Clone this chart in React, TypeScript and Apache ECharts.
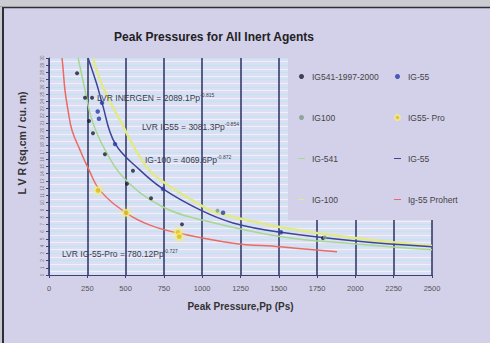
import React, { useEffect, useRef } from "react";
import * as echarts from "echarts";

// ---- data ----
const xTickMax = 2500;
const yTickMax = 30;

// measured points
const ig541Points = [[183, 27.9], [235, 24.5], [281, 24.5], [261, 21.3], [287, 19.6], [365, 16.7], [548, 14.4], [509, 12.6], [666, 10.6], [868, 7.0], [1788, 5.1]];
const ig55Points = [[346, 23.8], [318, 22.6], [326, 21.6], [431, 18.1], [744, 11.9], [1136, 8.6], [1514, 5.9]];
const ig100Points = [[1100, 8.9], [1800, 5.2]];
const ig55ProPoints = [[320, 11.7], [503, 8.6], [842, 5.9], [850, 5.3]];

// fitted curves
const ig541Fit = [[190, 30], [235, 25.6], [281, 21.4], [366, 17.3], [503, 13.1], [744, 9.4], [999, 7.6], [1514, 5.3], [2000, 4.3], [2500, 3.5]];
const ig55Fit = [[255, 30], [313, 26.3], [346, 23.8], [431, 18.2], [594, 14.5], [744, 11.9], [986, 9.0], [1201, 7.2], [1514, 5.9], [2000, 4.7], [2500, 3.9]];
const ig100Fit = [[287, 30], [346, 26.3], [463, 21.4], [627, 15.2], [744, 12.9], [986, 9.7], [1097, 8.6], [1514, 6.6], [2000, 5.1], [2500, 4.0]];
const ig55ProFit = [[85, 30], [91, 28.7], [104, 25.6], [124, 22.8], [150, 20.0], [202, 17.3], [255, 14.8], [333, 11.7], [503, 8.6], [659, 6.9], [842, 5.8], [1201, 4.4], [1508, 3.9], [1880, 3.2]];

const equations = [
  { label: "LVR INERGEN = 2089.1Pp", exp: "-0.815", x: 97, y: 98 },
  { label: "LVR IG55 = 3081.3Pp", exp: "-0.854", x: 142, y: 127 },
  { label: "IG-100 = 4069.6Pp", exp: "-0.872", x: 145, y: 160 },
  { label: "LVR IG-55-Pro = 780.12Pp", exp: "-0.727", x: 62, y: 254 },
];

const FONT = "Liberation Sans, Arial, sans-serif";
const LINE_ICON = "path://M0,0 L0,0 M0,4 L14,4 L14,6 L0,6 Z M14,10 L14,10";

export default function App() {
  const ref = useRef<HTMLDivElement>(null);
  useEffect(() => {
    if (!ref.current) return;
    const chart = echarts.init(ref.current, null, { renderer: "svg" });
    const lav = "#d3d0ea";
    const legendText = { fontSize: 8.5, color: "#444", fontFamily: FONT };
    const option: any = {
      animation: false,
      backgroundColor: lav,
      textStyle: { fontFamily: FONT },
      grid: { left: 49, right: 58, top: 58, bottom: 68, show: true, backgroundColor: "#dcdff3", borderWidth: 0 },
      xAxis: {
        type: "value",
        min: 0,
        max: xTickMax,
        interval: 250,
        name: "Peak Pressure,Pp (Ps)",
        nameLocation: "middle",
        nameGap: 26,
        nameTextStyle: { fontSize: 10, fontWeight: "bold", color: "#333", fontFamily: FONT },
        axisLine: { show: true, lineStyle: { color: "#3a4070", width: 1 } },
        axisTick: { show: true, length: 3, lineStyle: { color: "#3a4070" } },
        axisLabel: { fontSize: 7.5, color: "#555", margin: 9, fontFamily: FONT, formatter: (v: number) => String(v) },
        splitLine: { show: true, lineStyle: { color: "#2b3260", width: 1.5 } },
      },
      yAxis: {
        type: "value",
        min: 0,
        max: yTickMax,
        interval: 1,
        axisLine: { show: true, lineStyle: { color: "#3a4070", width: 1 } },
        axisTick: { show: true, length: 3, lineStyle: { color: "#3a4070" } },
        axisLabel: { fontSize: 4.5, color: "#777", margin: 4, rotate: 90, fontFamily: FONT },
        splitLine: { show: true, lineStyle: { color: "#bfe4f2", width: 1 } },
        minorTick: { show: false, splitNumber: 2 },
        minorSplitLine: { show: true, lineStyle: { color: "#eef0fa", width: 1 } },
      },
      legend: [
        {
          left: 293,
          top: 67,
          orient: "vertical",
          itemGap: 32,
          itemWidth: 11,
          itemHeight: 5,
          textStyle: legendText,
          data: [
            { name: "IG541-1997-2000", icon: "circle" },
            { name: "IG100", icon: "circle" },
            { name: "IG-541", icon: LINE_ICON },
            { name: "IG-100", icon: LINE_ICON },
          ],
        },
        {
          left: 389,
          top: 67,
          orient: "vertical",
          itemGap: 32,
          itemWidth: 11,
          itemHeight: 5,
          textStyle: legendText,
          data: [
            { name: "IG-55", icon: "circle" },
            { name: "IG55- Pro", icon: "circle" },
            { name: "IG-55 ", icon: LINE_ICON },
            { name: "Ig-55 Prohert", icon: LINE_ICON },
          ],
        },
      ],
      series: [
        { name: "IG-541", type: "line", data: ig541Fit, smooth: 0.4, symbol: "none", lineStyle: { color: "#a6d88e", width: 1.5 }, itemStyle: { color: "#a6d88e" }, z: 3 },
        { name: "IG-100", type: "line", data: ig100Fit, smooth: 0.4, symbol: "none", lineStyle: { color: "#e2e98a", width: 2.5 }, itemStyle: { color: "#e2e98a" }, z: 3 },
        { name: "IG-55 ", type: "line", data: ig55Fit, smooth: 0.4, symbol: "none", lineStyle: { color: "#3e4596", width: 1.5 }, itemStyle: { color: "#3e4596" }, z: 4 },
        { name: "Ig-55 Prohert", type: "line", data: ig55ProFit, smooth: 0.4, symbol: "none", lineStyle: { color: "#ec6a62", width: 1.5 }, itemStyle: { color: "#ec6a62" }, z: 4 },
        { name: "IG541-1997-2000", type: "scatter", data: ig541Points, symbolSize: 4, itemStyle: { color: "#1c1c30" }, z: 6 },
        { name: "IG-55", type: "scatter", data: ig55Points, symbolSize: 4.5, itemStyle: { color: "#2c3aa8" }, z: 6 },
        { name: "IG100", type: "scatter", data: ig100Points, symbolSize: 4, itemStyle: { color: "#7e9a86" }, z: 6 },
        { name: "IG55- Pro", type: "scatter", data: ig55ProPoints, symbolSize: 6, itemStyle: { color: "#d8b818", shadowBlur: 5, shadowColor: "#f4f070", borderColor: "#f6ee80", borderWidth: 1.5 }, z: 6 },
      ],
      graphic: [
        { type: "rect", z: 1, shape: { x: 288, y: 50, width: 202, height: 170 }, style: { fill: lav } },
        { type: "rect", z: 1, shape: { x: 433, y: 50, width: 57, height: 230 }, style: { fill: lav } },
        { type: "rect", z: 100, shape: { x: 0, y: 0, width: 490, height: 7 }, style: { fill: "#cbcbd2" } },
        { type: "line", z: 100, shape: { x1: 0, y1: 7.5, x2: 490, y2: 7.5 }, style: { stroke: "#2e2e36", lineWidth: 1.5 } },
        { type: "rect", z: 100, shape: { x: 0, y: 7, width: 2, height: 336 }, style: { fill: "#c8c8d0" } },
        { type: "line", z: 100, shape: { x1: 3, y1: 7, x2: 3, y2: 343 }, style: { stroke: "#2e2e36", lineWidth: 2 } },
        {
          type: "text",
          z: 100,
          x: 214,
          y: 37,
          style: { text: "Peak Pressures for All Inert Agents", fill: "#222", font: "bold 12px " + FONT, textAlign: "center", textVerticalAlign: "middle" },
        },
        {
          type: "text",
          z: 100,
          x: 22,
          y: 143,
          rotation: Math.PI / 2,
          style: { text: "L V R (sq.cm / cu. m)", fill: "#333", font: "bold 10.5px " + FONT, textAlign: "center", textVerticalAlign: "middle" },
        },
        ...equations.map((e) => ({
          type: "text",
          z: 100,
          x: e.x,
          y: e.y,
          style: {
            text: e.label + "{sup|" + e.exp + "}",
            fill: "#3a3a4a",
            font: "8.5px " + FONT,
            textVerticalAlign: "middle",
            rich: { sup: { fontSize: 5, fill: "#3a3a4a", padding: [0, 0, 7, 0] } },
          },
        })),
      ],
    };
    chart.setOption(option);
    return () => chart.dispose();
  }, []);
  return <div ref={ref} style={{ position: "fixed", left: 0, top: 0, width: 490, height: 343 }} />;
}
